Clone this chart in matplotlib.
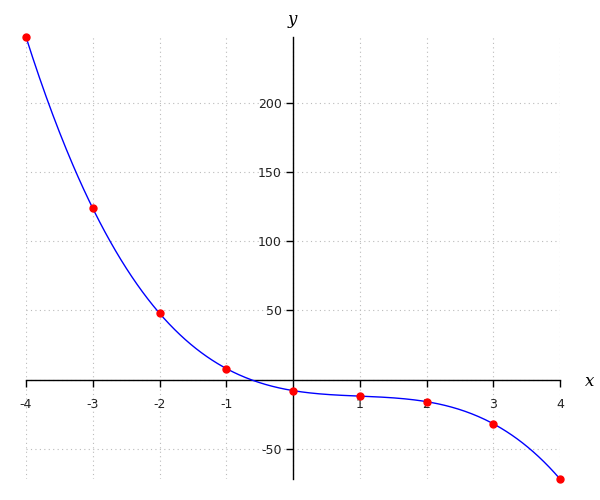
import matplotlib
matplotlib.use("Agg")
import matplotlib.pyplot as plt
import numpy as np

# sample points shown as red dots
x_points = [-4, -3, -2, -1, 0, 1, 2, 3, 4]
y_points = [248, 124, 48, 8, -8, -12, -16, -32, -72]

# cubic drawn as the blue curve (highest power first)
curve_coeffs = [-2, 6, -8, -8]

x_ticks = [-4, -3, -2, -1, 1, 2, 3, 4]
y_ticks = [-50, 50, 100, 150, 200]
grid_x = [-4, -3, -2, -1, 0, 1, 2, 3, 4]
grid_y = [-50, 0, 50, 100, 150, 200]

fig = plt.figure(figsize=(6, 5), dpi=100)
ax = fig.add_axes([26 / 600, 21 / 500, 534 / 600, 442 / 500])

xs = np.linspace(min(x_points), max(x_points), 400)
ax.plot(xs, np.polyval(curve_coeffs, xs), color="blue", lw=1, zorder=3)
ax.plot(x_points, y_points, "o", color="red", ms=5, zorder=4, clip_on=False)

ax.set_xlim(-4, 4)
ax.set_ylim(-72, 248)

for gx in grid_x:
    ax.axvline(gx, color="#bbbbbb", lw=0.8, ls=(0, (1, 3)), zorder=1)
for gy in grid_y:
    ax.axhline(gy, color="#bbbbbb", lw=0.8, ls=(0, (1, 3)), zorder=1)

ax.spines["left"].set_position(("data", 0))
ax.spines["bottom"].set_position(("data", 0))
ax.spines["right"].set_visible(False)
ax.spines["top"].set_visible(False)
for s in ("left", "bottom"):
    ax.spines[s].set_linewidth(1)
    ax.spines[s].set_zorder(2)

ax.set_xticks(x_ticks)
ax.set_xticklabels([str(t) for t in x_ticks])
ax.set_yticks(y_ticks)
ax.set_yticklabels([str(t) for t in y_ticks])
ax.tick_params(axis="both", direction="out", length=5, width=1,
               labelsize=9, colors="black", labelcolor="#222222", pad=8)
ax.tick_params(axis="y", pad=3)
ax.set_facecolor("none")

fig.text(590 / 600, 1 - 382 / 500, "x", fontsize=12, fontstyle="italic",
         family="DejaVu Serif", ha="center", va="center")
fig.text(292 / 600, 1 - 20 / 500, "y", fontsize=12, fontstyle="italic",
         family="DejaVu Serif", ha="center", va="center")

plt.savefig("out.png", dpi=100)
